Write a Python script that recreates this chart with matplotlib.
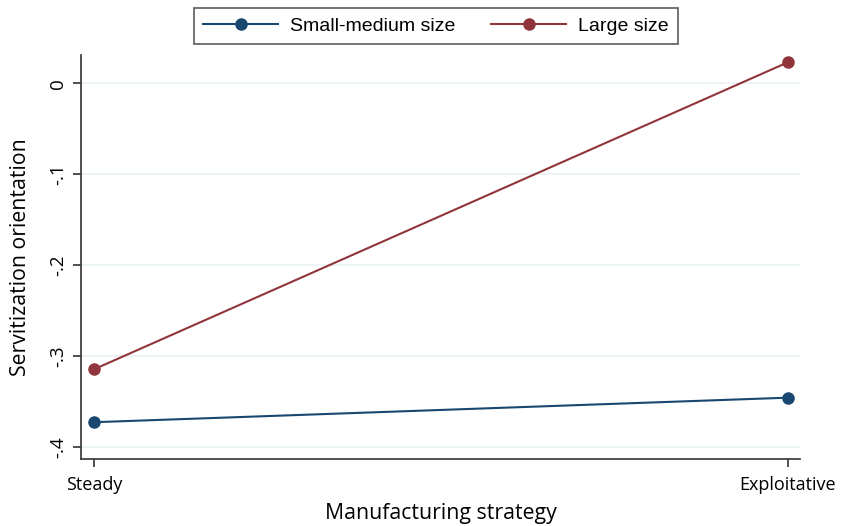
import matplotlib
matplotlib.use("Agg")
import matplotlib.pyplot as plt

strategies = ["Steady", "Exploitative"]
small_medium = [-0.373, -0.346]
large = [-0.3146, 0.0231]
yticks = [0, -0.1, -0.2, -0.3, -0.4]
ytick_labels = ["0", "-.1", "-.2", "-.3", "-.4"]

blue = "#1a476f"
red = "#90353b"

fig = plt.figure(figsize=(8.41, 5.26), dpi=100)
ax = fig.add_axes([81 / 841, 1 - 459 / 526, (800 - 81) / 841, (459 - 55) / 526])

x = list(range(len(strategies)))
ax.plot(x, small_medium, color=blue, lw=1.5, marker="o", ms=8, label="Small-medium size")
ax.plot(x, large, color=red, lw=1.5, marker="o", ms=8, label="Large size")

ax.set_xlim(-0.0192, 1.0177)
ax.set_ylim(-0.4135, 0.0312)
ax.set_xticks(x)
ax.set_xticklabels(strategies, fontsize=13, family="Open Sans")
ax.set_yticks(yticks)
ax.set_yticklabels(ytick_labels, fontsize=13.5, family="Open Sans", rotation=90, va="center")
ax.grid(axis="y", color="#eaf2f3", lw=1.2)
ax.set_axisbelow(True)
for side in ("top", "right"):
    ax.spines[side].set_visible(False)
for side in ("left", "bottom"):
    ax.spines[side].set_color("#333333")
    ax.spines[side].set_linewidth(1.2)
ax.tick_params(length=6, width=1.2, color="#333333", pad=4)
ax.tick_params(axis="x", pad=6)

ax.set_xlabel("Manufacturing strategy", fontsize=15.3, family="Open Sans", labelpad=7)
ax.set_ylabel("Servitization orientation", fontsize=15.3, family="Open Sans", labelpad=13)

leg = fig.legend(loc="center", bbox_to_anchor=(436 / 841, 1 - 26 / 526), ncol=2,
                 frameon=True, fancybox=False, edgecolor="#333333",
                 prop={"family": "Liberation Sans", "size": 14},
                 handlelength=3.85, handletextpad=0.62, columnspacing=1.85, borderpad=0.45)
leg.get_frame().set_linewidth(1.2)

fig.savefig("out.png", dpi=100)
